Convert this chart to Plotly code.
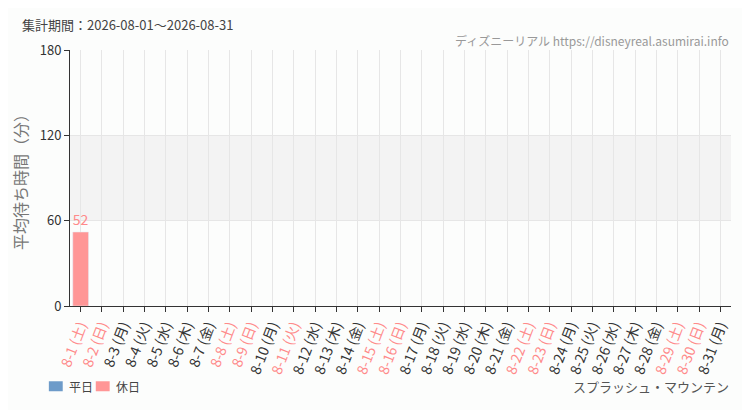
import plotly.graph_objects as go

days = [f"8-{d}" for d in range(1, 32)]
weekdays = ["土", "日", "月", "火", "水", "木", "金"] * 5
weekdays = weekdays[:31]
holidays = [1, 2, 8, 9, 11, 15, 16, 22, 23, 29, 30]
wait_values = [52] + [None] * 30

PINK = "#ff9696"
BLUE = "#6d9bc9"
LABEL_PINK = "#ff8a8a"

tick_text = []
for i, d in enumerate(days):
    label = f"{d} ({weekdays[i]})"
    if (i + 1) in holidays:
        tick_text.append(f"<span style='color:{LABEL_PINK}'>{label}</span>")
    else:
        tick_text.append(label)

weekday_vals = [v if (i + 1) not in holidays else None for i, v in enumerate(wait_values)]
holiday_vals = [v if (i + 1) in holidays else None for i, v in enumerate(wait_values)]

fig = go.Figure()
fig.add_trace(go.Bar(
    x=days, y=weekday_vals, name="平日", marker_color=BLUE,
    text=weekday_vals, textposition="outside", cliponaxis=False,
    textfont=dict(color="#555", size=14),
))
fig.add_trace(go.Bar(
    x=days, y=holiday_vals, name="休日", marker_color=PINK,
    text=holiday_vals, textposition="outside", cliponaxis=False,
    textfont=dict(color=LABEL_PINK, size=14),
))

# band between 60 and 120
fig.add_shape(type="rect", xref="paper", yref="y", x0=0, x1=1, y0=60, y1=120,
              fillcolor="#f3f3f3", line_width=0, layer="below")

# hand-drawn legend (plotly's legend spacing is too wide)
for (x0, x1, tx, color, name) in [(-0.032, -0.011, -0.005, BLUE, "平日"),
                                  (0.039, 0.060, 0.066, PINK, "休日")]:
    fig.add_shape(type="rect", xref="paper", yref="paper", x0=x0, x1=x1, y0=-0.333, y1=-0.294,
                  fillcolor=color, line_width=0)
    fig.add_annotation(text=name, xref="paper", yref="paper", x=tx, y=-0.314,
                       xanchor="left", yanchor="middle", showarrow=False,
                       font=dict(size=12, color="#444"))

fig.add_annotation(text="集計期間：2026-08-01～2026-08-31", xref="paper", yref="paper",
                   x=-0.076, y=1.098, xanchor="left", yanchor="middle", showarrow=False,
                   font=dict(size=13, color="#444"))
fig.add_annotation(text="ディズニーリアル https://disneyreal.asumirai.info", xref="paper", yref="paper",
                   x=1, y=1.039, xanchor="right", yanchor="middle", showarrow=False,
                   font=dict(size=12, color="#999"))
fig.add_annotation(text="スプラッシュ・マウンテン", xref="paper", yref="paper",
                   x=1, y=-0.314, xanchor="right", yanchor="middle", showarrow=False,
                   font=dict(size=13, color="#555"))

# page body has an 8px margin, so the figure is sized to fit the 750x410 window
fig.update_layout(
    width=742, height=402,
    margin=dict(l=62, r=19, t=42, b=104),
    paper_bgcolor="#fcfdfc", plot_bgcolor="#fcfdfc",
    font=dict(family="Noto Sans CJK JP", color="#333"),
    barmode="overlay", bargap=0.26,
    showlegend=False,
    xaxis=dict(
        tickmode="array", tickvals=days, ticktext=tick_text, tickangle=-69,
        tickfont=dict(size=14, color="#333"), automargin=False,
        showgrid=True, gridcolor="#e6e6e6", gridwidth=1,
        showline=True, linecolor="#333", linewidth=1,
        ticks="outside", ticklen=5, tickcolor="#333",
        fixedrange=True,
    ),
    yaxis=dict(
        range=[0, 180], tickvals=[0, 60, 120, 180], automargin=False,
        tickfont=dict(size=13, color="#333"),
        showgrid=True, gridcolor="#e6e6e6", gridwidth=1, zeroline=False,
        showline=True, linecolor="#333", linewidth=1,
        ticks="outside", ticklen=5, tickcolor="#333",
        title=dict(text="平均待ち時間（分）", font=dict(size=16, color="#777"), standoff=8),
    ),
)

fig.write_html("out.html")
